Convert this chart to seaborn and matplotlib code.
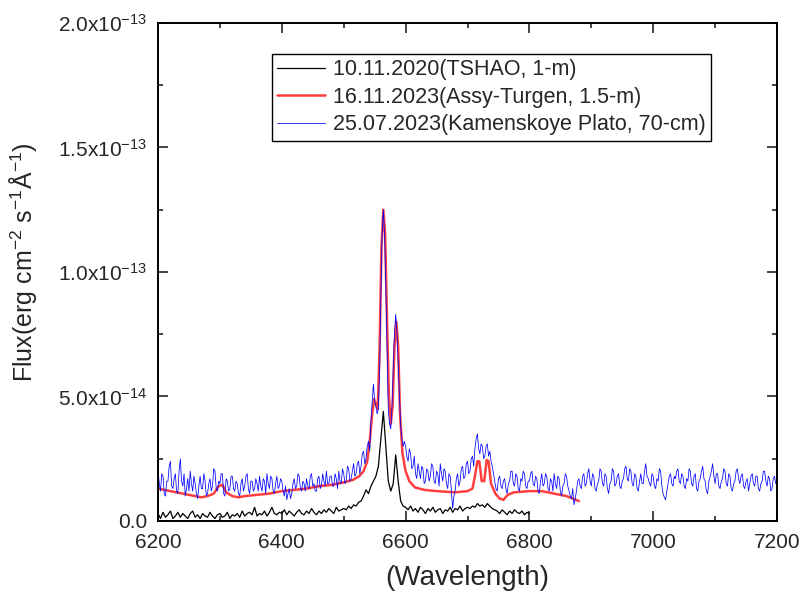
import numpy as np
import matplotlib
matplotlib.use("Agg")
import matplotlib.pyplot as plt
import seaborn as sns
from matplotlib.ticker import MultipleLocator, FuncFormatter

# flux values are in units of 1e-14 erg cm-2 s-1 A-1
labels = ["10.11.2020(TSHAO, 1-m)",
          "16.11.2023(Assy-Turgen, 1.5-m)",
          "25.07.2023(Kamenskoye Plato, 70-cm)"]

# TSHAO 1-m spectrum, 6200..6800 A, 4 A sampling
tshao_range = (6200, 6800)
tshao_flux = [
    0.3, 0.1, 0.35, 0.15, 0.25, 0.4, 0.1, 0.2, 0.35, 0.15,
    0.3, 0.2, 0.1, 0.3, 0.4, 0.15, 0.25, 0.1, 0.3, 0.2,
    0.15, 0.35, 0.2, 0.1, 0.25, 0.3, 0.15, 0.2, 0.35, 0.1,
    0.25, 0.2, 0.3, 0.15, 0.4, 0.2, 0.3, 0.35, 0.25, 0.55,
    0.2, 0.3, 0.25, 0.4, 0.2, 0.35, 0.55, 0.3, 0.25, 0.35,
    0.3, 0.45, 0.25, 0.4, 0.3, 0.2, 0.35, 0.45, 0.3, 0.25,
    0.4, 0.3, 0.5, 0.35, 0.25, 0.4, 0.3, 0.45, 0.35, 0.5,
    0.4, 0.3, 0.55, 0.4, 0.45,
    0.5, 0.45, 0.6, 0.5, 0.65, 0.6, 0.75, 0.8, 1.0, 1.25, 1.1, 1.4, 1.6,
    1.8, 2.2, 3.3, 4.4, 3.0, 1.6, 1.2, 1.5, 2.65, 1.6, 0.8, 0.6, 0.55,
    0.45, 0.6, 0.4, 0.5, 0.35, 0.55, 0.45, 0.3, 0.5, 0.4,
    0.55, 0.35, 0.45, 0.5, 0.3, 0.45, 0.4, 0.55, 0.35, 0.5,
    0.45, 0.6, 0.4, 0.5, 0.55,
    0.5, 0.6, 0.55, 0.7, 0.6, 0.65, 0.55, 0.7, 0.6, 0.5,
    0.45, 0.4, 0.3, 0.45, 0.35, 0.25, 0.4, 0.3, 0.45, 0.35,
    0.3, 0.4, 0.25, 0.35, 0.3,
]

# Assy-Turgen 1.5-m spectrum (smooth), read at irregular wavelengths
assy_wave = [6200, 6210, 6220, 6230, 6240, 6250, 6260, 6270, 6280, 6290,
             6298, 6304, 6310, 6320, 6330, 6340, 6360, 6380, 6400, 6420,
             6440, 6460, 6480, 6500, 6515, 6525, 6532, 6538, 6542, 6546,
             6549, 6552, 6555, 6558, 6561, 6564, 6567, 6570, 6573, 6576,
             6579, 6582, 6585, 6588, 6591, 6595, 6600, 6606, 6615, 6630,
             6650, 6680, 6700, 6708, 6712, 6716, 6719, 6723, 6727, 6731,
             6734, 6738, 6745, 6752, 6758, 6765, 6775, 6800, 6820, 6840,
             6860, 6875, 6880]
assy_flux = [1.3, 1.25, 1.2, 1.15, 1.1, 1.05, 1.0, 0.95, 1.0, 1.1,
             1.4, 1.45, 1.15, 1.0, 0.95, 1.0, 1.05, 1.1, 1.2, 1.25,
             1.3, 1.4, 1.45, 1.55, 1.65, 1.8, 2.0, 2.4, 3.2, 4.3,
             4.9, 4.7, 4.5, 7.0, 11.0, 12.5, 11.5, 8.0, 5.0, 3.9,
             4.6, 7.0, 8.0, 7.0, 4.3, 2.7, 2.0, 1.6, 1.35, 1.25,
             1.2, 1.15, 1.2, 1.3, 1.8, 2.4, 2.4, 1.6, 1.6, 2.45,
             2.4, 1.5, 1.1, 0.9, 0.85, 1.05, 1.15, 1.2, 1.2, 1.1,
             1.0, 0.85, 0.8]

# Kamenskoye Plato 70-cm spectrum, 6200..7200 A, 2 A sampling
kam_range = (6200, 7200)
kam_flux = [
    2.1, 1.5, 1.2, 1.9, 1.8, 1.1, 1.0, 1.6, 1.6, 2.2, 2.4, 1.4, 1.3, 1.7, 1.9, 1.2, 1.1, 2.0, 2.5, 1.6,
    1.4, 1.9, 1.0, 1.3, 1.7, 1.2, 2.0, 1.5, 1.2, 1.8, 1.5, 1.1, 0.9, 1.4, 1.8, 1.3, 1.3, 1.9, 1.6, 1.0,
    1.1, 1.5, 1.7, 1.2, 1.4, 2.1, 2.0, 1.3, 1.2, 1.6, 1.5, 1.9, 1.9, 1.1, 1.0, 1.7, 1.6, 1.2, 1.3, 1.8,
    1.8, 1.3, 1.2, 1.6, 1.5, 1.1, 1.0, 1.5, 1.7, 1.2, 1.4, 1.8, 1.9, 1.3, 1.1, 1.6, 1.6, 1.2, 1.3, 1.7,
    1.5, 1.2, 1.8, 1.4, 1.2, 1.7, 1.6, 1.1, 1.9, 1.5, 1.3, 1.8, 1.7, 1.2, 1.1, 1.5, 1.8, 1.3, 1.4, 1.7,
    1.6, 1.2, 1.0, 1.4, 0.85, 1.1, 1.3, 0.9, 1.1, 1.5, 1.7, 1.3, 1.4, 1.9, 1.8, 1.3, 1.2, 1.6, 1.5, 1.2,
    1.7, 1.4, 1.3, 1.8, 1.9, 1.4, 1.5, 1.2, 1.2, 1.7, 1.8, 1.3, 1.4, 1.9, 1.6, 1.4, 2.0, 1.5, 1.5, 1.8,
    1.8, 1.4, 1.4, 1.9, 1.7, 1.3, 2.0, 1.6, 1.5, 2.1, 1.9, 1.5, 1.6, 2.2, 2.1, 1.6, 1.7, 2.0, 2.3, 1.8,
    1.9, 2.3, 2.4, 1.9, 2.2, 2.7, 2.8, 2.3, 2.5, 3.0, 3.2, 2.8, 4.0, 4.8, 5.5, 4.8, 4.6, 4.3, 4.5, 6.0,
    9.0, 11.5, 12.5, 11.5, 9.5, 7.0, 4.5, 3.9, 3.7, 4.6, 6.0, 7.5, 8.3, 7.6, 6.3, 5.0, 3.8, 3.3, 3.0, 3.2,
    3.0, 2.6, 2.4, 2.9, 2.7, 2.1, 2.2, 2.6, 1.9, 1.7, 2.3, 2.0, 1.7, 2.2, 2.1, 1.5, 1.6, 2.1, 2.0, 1.6,
    1.8, 2.3, 2.2, 1.6, 1.5, 2.0, 1.9, 1.4, 2.3, 1.9, 1.6, 2.1, 2.0, 1.5, 1.3, 1.9, 1.8, 1.2, 0.5, 1.0,
    1.2, 1.7, 1.9, 1.4, 1.6, 2.1, 2.2, 1.7, 1.8, 2.3, 2.4, 1.9, 2.0, 2.5, 2.6, 2.2, 2.9, 3.3, 3.5, 2.9,
    2.7, 3.1, 3.0, 2.5, 2.6, 3.0, 3.1, 2.6, 2.8, 2.4, 2.2, 1.9, 1.6, 1.3, 1.2, 1.7, 1.8, 1.4, 1.3, 1.6,
    1.7, 1.3, 1.1, 1.5, 1.6, 2.0, 2.0, 1.5, 1.4, 1.9, 1.8, 1.3, 1.2, 1.7, 1.6, 2.0, 1.9, 1.4, 1.3, 1.6,
    1.6, 1.9, 2.0, 1.5, 1.4, 1.8, 1.7, 1.2, 1.1, 1.6, 1.9, 1.4, 1.5, 1.9, 1.8, 1.3, 1.2, 1.7, 1.6, 1.2,
    1.9, 1.5, 1.3, 1.8, 1.7, 1.2, 1.0, 1.4, 1.5, 1.9, 1.8, 1.4, 1.2, 1.0, 0.9, 1.3, 0.65, 0.9, 1.2, 1.6,
    1.7, 1.4, 1.3, 1.8, 1.9, 1.4, 1.5, 1.9, 2.1, 1.6, 1.4, 1.9, 1.8, 1.3, 1.2, 1.5, 1.6, 2.1, 2.0, 1.5,
    1.4, 1.9, 1.8, 1.3, 1.1, 1.5, 1.6, 2.1, 2.0, 1.4, 1.5, 1.8, 1.9, 1.4, 1.3, 1.6, 1.7, 2.1, 2.2, 1.7,
    1.6, 2.1, 2.0, 1.5, 1.4, 1.9, 1.8, 1.3, 1.2, 1.6, 1.9, 1.5, 1.5, 2.0, 2.3, 1.8, 1.7, 1.5, 1.4, 1.9,
    1.8, 1.4, 1.3, 1.7, 1.6, 2.1, 2.0, 1.4, 1.1, 0.95, 0.85, 1.2, 1.5, 1.8, 1.9, 1.5, 1.4, 1.8, 1.7, 2.0,
    2.1, 1.6, 1.5, 1.9, 1.8, 1.4, 1.3, 1.7, 1.6, 2.1, 2.0, 1.5, 1.4, 1.8, 1.9, 1.3, 1.2, 1.6, 1.7, 2.0,
    2.2, 1.7, 1.6, 1.2, 1.1, 1.6, 1.8, 2.0, 2.3, 1.8, 1.5, 1.9, 1.9, 1.4, 1.3, 1.6, 1.7, 2.1, 2.0, 1.5,
    1.4, 1.9, 1.8, 1.3, 1.2, 1.5, 1.6, 2.0, 2.1, 1.7, 1.5, 1.8, 1.9, 1.4, 1.3, 1.6, 1.7, 1.2, 1.5, 1.8,
    1.9, 1.5, 1.4, 1.8, 1.8, 1.3, 1.2, 1.5, 1.6, 2.0, 2.0, 1.6, 1.4, 1.8, 1.7, 1.2, 1.3, 1.7, 1.8, 1.5,
    1.6,
]

sns.set_style("ticks")
plt.rcParams['font.family'] = ['Liberation Sans', 'DejaVu Sans']
plt.rcParams['mathtext.default'] = 'regular'

tshao_wave = np.linspace(tshao_range[0], tshao_range[1], len(tshao_flux))
kam_wave = np.linspace(kam_range[0], kam_range[1], len(kam_flux))

fig = plt.figure(figsize=(8.03, 5.94), dpi=100)
ax = fig.add_axes([0.1968, 0.1229, 0.7708, 0.8384])

sns.lineplot(x=tshao_wave, y=np.array(tshao_flux) * 1e-14, ax=ax, color='black',
             lw=0.9, sort=False, estimator=None, label=labels[0])
sns.lineplot(x=assy_wave, y=np.array(assy_flux) * 1e-14, ax=ax, color='#ff2a2a',
             lw=1.8, alpha=0.9, sort=False, estimator=None, label=labels[1])
sns.lineplot(x=kam_wave, y=np.array(kam_flux) * 1e-14, ax=ax, color='#0000ff',
             lw=0.55, sort=False, estimator=None, label=labels[2])

ax.set_xlim(6200, 7200)
ax.set_ylim(0, 2e-13)
ax.xaxis.set_major_locator(MultipleLocator(200))
ax.xaxis.set_minor_locator(MultipleLocator(100))
ax.yaxis.set_major_locator(MultipleLocator(5e-14))
ax.yaxis.set_minor_locator(MultipleLocator(2.5e-14))


def sci_fmt(v, pos):
    if abs(v) < 1e-20:
        return "0.0"
    e = int(np.floor(np.log10(abs(v)) + 1e-9))
    m = v / 10 ** e
    return "%.1fx10$^{%d}$" % (m, e)


ax.yaxis.set_major_formatter(FuncFormatter(sci_fmt))
ax.tick_params(which='both', direction='in', top=True, right=True,
               width=1.2, labelsize=15)
ax.tick_params(axis='x', pad=9)
ax.tick_params(axis='y', pad=8)
ax.tick_params(which='major', length=7)
ax.tick_params(which='minor', length=3.5)
for s in ax.spines.values():
    s.set_linewidth(1.4)
    s.set_color('black')

ax.set_xlabel("(Wavelength)", fontsize=20, labelpad=9)
ax.set_ylabel("Flux(erg cm$^{-2}$ s$^{-1}$Å$^{-1}$)", fontsize=18)
ax.yaxis.set_label_coords(-0.193, 0.52)

leg = ax.legend(loc='upper left', bbox_to_anchor=(0.3387, 0.909),
                bbox_transform=fig.transFigure, borderaxespad=0,
                fontsize=15.5, handlelength=2.2, handletextpad=0.4,
                labelspacing=0.3, borderpad=0.25, fancybox=False,
                framealpha=1, edgecolor='black')
leg.get_frame().set_linewidth(1.0)

fig.savefig("out.png", dpi=100)
